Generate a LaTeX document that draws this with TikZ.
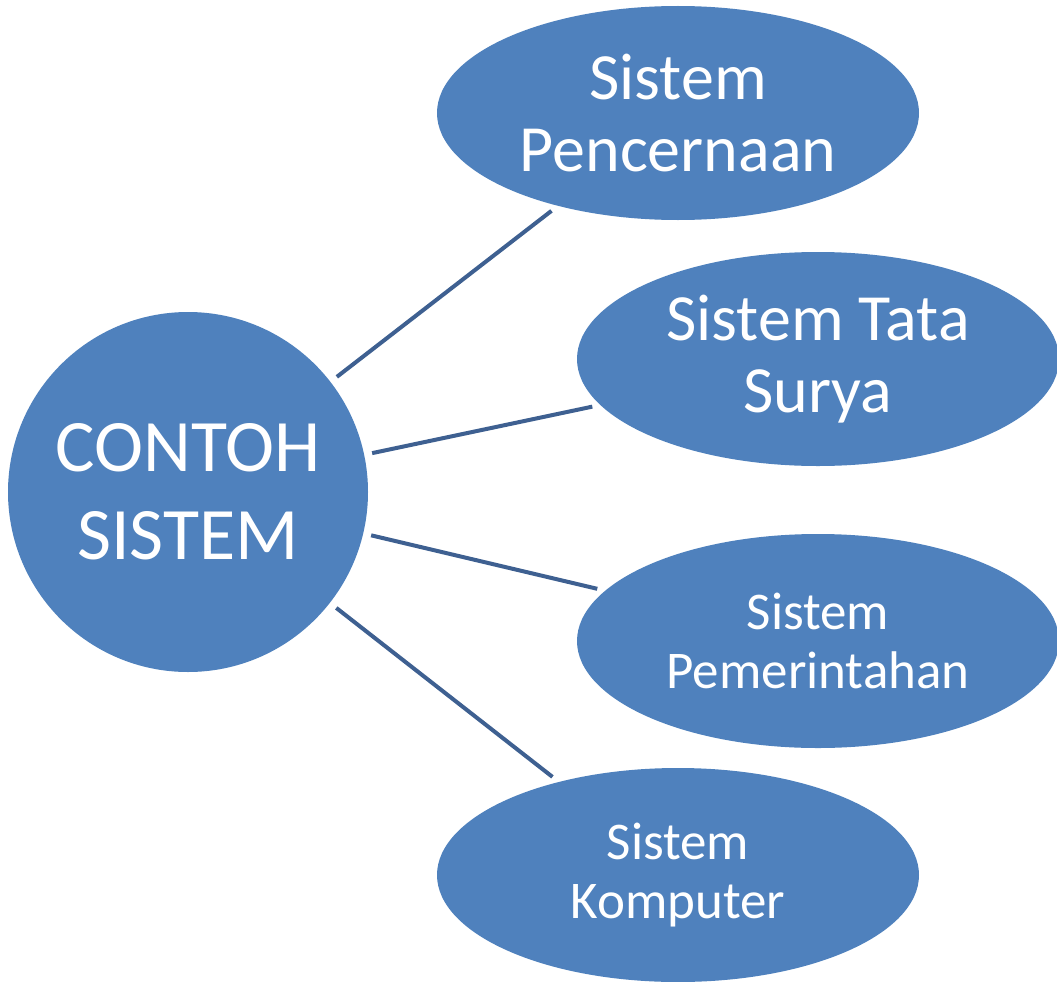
\documentclass[tikz,border=0pt]{standalone}
\usepackage{fontspec}
\setmainfont{Carlito}
\usetikzlibrary{shapes.geometric}
\definecolor{bolablue}{RGB}{79,129,189}
\definecolor{garisblue}{RGB}{62,96,145}
\begin{document}
\begin{tikzpicture}[x=1pt,y=-1pt,
   pusat/.style={circle,fill=bolablue,minimum size=360pt,inner sep=0pt,
     text=white,align=center,font=\fontsize{74}{88}\selectfont},
   cabang/.style={ellipse,fill=bolablue,minimum width=482pt,minimum height=214pt,
     inner sep=0pt,text=white,align=center},
   besar/.style={font=\fontsize{66}{72}\selectfont},
   kecil/.style={font=\fontsize{53}{59}\selectfont},
   garis/.style={draw=garisblue,line width=4pt,shorten <=8pt,shorten >=8pt}]
   \useasboundingbox (0,0) rectangle (1057,982);

   \node[pusat] (contoh) at (188,492) {CONTOH\\SISTEM};

   \node[cabang,besar] (cerna) at (678,113) {Sistem\\Pencernaan};
   \node[cabang,besar] (surya) at (818,359) {Sistem Tata\\Surya};
   \node[cabang,kecil] (perintah) at (818,641) {Sistem\\Pemerintahan};
   \node[cabang,kecil] (komputer) at (678,875) {Sistem\\Komputer};

   \draw[garis] (contoh) -- (cerna);
   \draw[garis] (contoh) -- (surya);
   \draw[garis] (contoh) -- (perintah);
   \draw[garis] (contoh) -- (komputer);
\end{tikzpicture}
\end{document}
